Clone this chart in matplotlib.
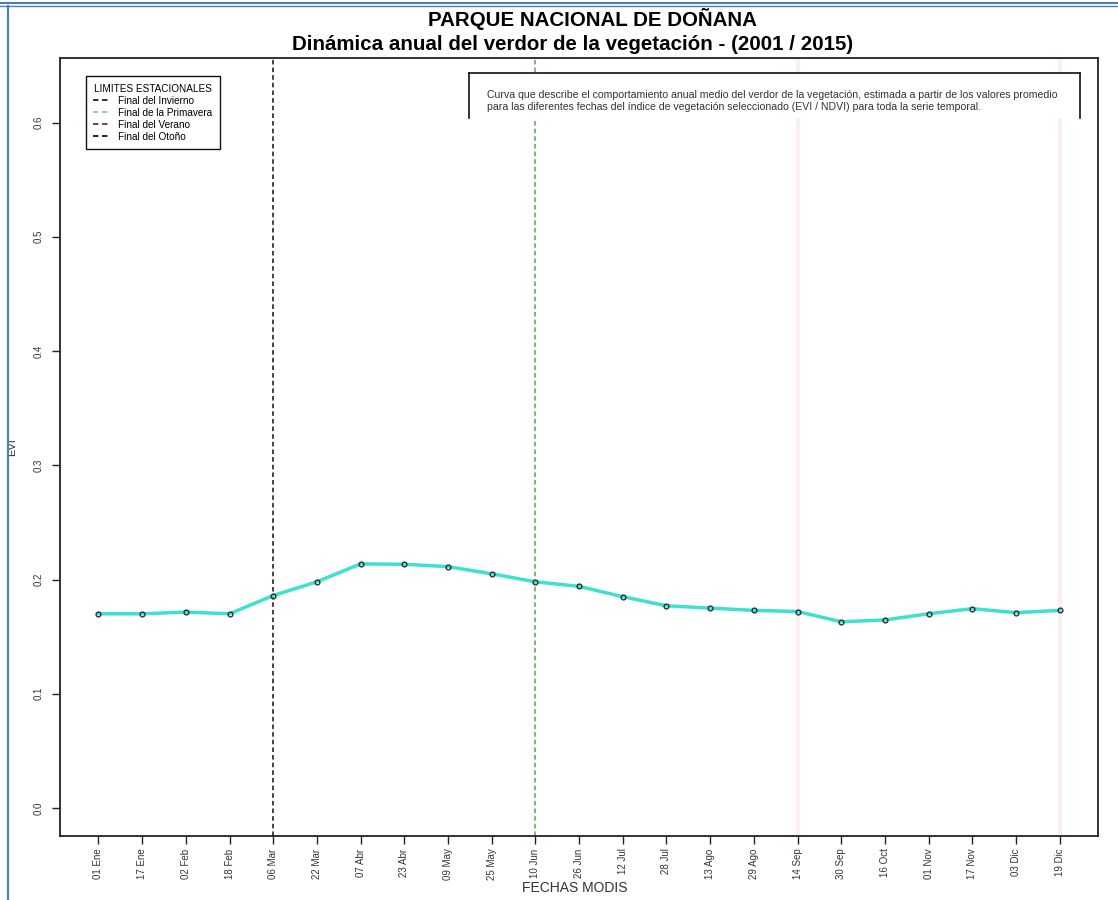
import matplotlib.pyplot as plt
from matplotlib.lines import Line2D
from matplotlib.patches import Rectangle

plt.rcParams['font.family'] = ['Liberation Sans', 'DejaVu Sans']

# ======================================
# DATA
# ======================================

fechas = ["01 Ene", "17 Ene", "02 Feb", "18 Feb", "06 Mar", "22 Mar",
          "07 Abr", "23 Abr", "09 May", "25 May", "10 Jun", "26 Jun",
          "12 Jul", "28 Jul", "13 Ago", "29 Ago", "14 Sep", "30 Sep",
          "16 Oct", "01 Nov", "17 Nov", "03 Dic", "19 Dic"]

evi = [0.170, 0.170, 0.1715, 0.170, 0.186, 0.198,
       0.2137, 0.2133, 0.2113, 0.205, 0.198, 0.194,
       0.185, 0.177, 0.175, 0.173, 0.172, 0.163,
       0.1646, 0.170, 0.1745, 0.171, 0.173]

y_ticks = [0.0, 0.1, 0.2, 0.3, 0.4, 0.5, 0.6]

# seasonal limits (date label, legend text)
limites_fechas = ["06 Mar", "10 Jun", "14 Sep", "19 Dic"]
limites_nombres = ["Final del Invierno", "Final de la Primavera",
                   "Final del Verano", "Final del Otoño"]
limites_colores = ["#1a1a3a", "#8fd18f", "#8b2a2a", "#111111"]
limites_lineas = ["#111111", "#5aa05a", "#fbeff2", "#fbeff2"]

texto_nota = ("Curva que describe el comportamiento anual medio del verdor de la vegetación, "
              "estimada a partir de los valores promedio\n"
              "para las diferentes fechas del índice de vegetación seleccionado (EVI / NDVI) "
              "para toda la serie temporal.")

# ======================================
# FIGURE
# ======================================

fig = plt.figure(figsize=(11.18, 9), dpi=100)
ax = fig.add_axes([0.0537, 0.0711, 0.9285, 0.8645])

x = list(range(1, len(fechas) + 1))

# vertical seasonal lines
for fecha, col in zip(limites_fechas, limites_lineas):
    pos = fechas.index(fecha) + 1
    if col.startswith("#fb"):
        ax.axvline(pos, color=col, linewidth=3, zorder=1)
    else:
        ax.axvline(pos, color=col, linewidth=1.1, linestyle=(0, (3, 2)), zorder=1)

ax.plot(x, evi, color="#40e0d0", linewidth=2.5, zorder=2)
ax.plot(x, evi, linestyle="none", marker="o", markersize=3.5,
        markerfacecolor="none", markeredgecolor="#222222",
        markeredgewidth=0.9, zorder=3)

ax.set_xlim(0.12, 23.88)
ax.set_ylim(-0.0245, 0.6565)

ax.set_xticks(x)
ax.set_xticklabels(fechas, rotation=90, fontsize=7, color="#333333")
ax.set_yticks(y_ticks)
ax.set_yticklabels([f"{v:.1f}" for v in y_ticks], rotation=90,
                   va="center", fontsize=7, color="#333333")
ax.tick_params(axis="x", length=6, width=1, color="#222222", pad=3)
ax.tick_params(axis="y", length=6, width=1, color="#222222", pad=6)

for side in ax.spines.values():
    side.set_linewidth(1.3)
    side.set_color("#222222")

fig.text(575 / 1118, 1 - 888 / 900, "FECHAS MODIS", ha="center", va="center",
         fontsize=10, color="#333333")
ax.set_ylabel("EVI", fontsize=8, color="#333333", labelpad=12)

# ======================================
# TITLE
# ======================================

fig.text(592 / 1118, 1 - 19 / 900, "PARQUE NACIONAL DE DOÑANA", ha="center", va="center",
         fontsize=14.8, fontweight="bold")
fig.text(573 / 1118, 1 - 45 / 900, "Dinámica anual del verdor de la vegetación - (2001 / 2015)",
         ha="center", va="center", fontsize=14.8, fontweight="bold")

# ======================================
# LEGEND
# ======================================

handles = [Line2D([0], [0], color=c, linestyle=(0, (3, 2)), linewidth=1.3)
           for c in limites_colores]
leg = ax.legend(handles, limites_nombres, title="LIMITES ESTACIONALES",
                loc="upper left", bbox_to_anchor=(0.02, 0.983),
                fontsize=7.2, title_fontsize=7.2, handlelength=1.8,
                handletextpad=0.7, labelspacing=0.2, borderpad=0.75,
                fancybox=False, framealpha=1)
leg.get_frame().set_edgecolor("#111111")
leg.get_frame().set_linewidth(1.0)

# ======================================
# NOTE BOX
# ======================================

x0, x1 = 469 / 1118, 1080 / 1118
y0, y1 = 1 - 118 / 900, 1 - 73 / 900
fig.add_artist(Rectangle((x0, y0), x1 - x0, y1 - y0, facecolor="white",
                         edgecolor="none", zorder=3))
fig.add_artist(Line2D([x0, x1], [y1, y1], color="#111111", linewidth=1.2, zorder=4))
fig.add_artist(Line2D([x0, x0], [y0, y1], color="#111111", linewidth=1.2, zorder=4))
fig.add_artist(Line2D([x1, x1], [y0, y1], color="#111111", linewidth=1.2, zorder=4))
fig.text(487 / 1118, 1 - 101 / 900, texto_nota, ha="left", va="center",
         fontsize=7.6, color="#333333", linespacing=1.2, zorder=5)

# ======================================
# SCREENSHOT BORDER
# ======================================

fig.add_artist(Line2D([0, 1], [1 - 3 / 900, 1 - 3 / 900], color="#4a7ebb", linewidth=1.5))
fig.add_artist(Line2D([0, 1], [1 - 6 / 900, 1 - 6 / 900], color="#4a7ebb", linewidth=1.0))
fig.add_artist(Line2D([8 / 1118, 8 / 1118], [0, 1 - 6 / 900], color="#4a7ebb", linewidth=1.5))

fig.savefig("out.png", dpi=100)
